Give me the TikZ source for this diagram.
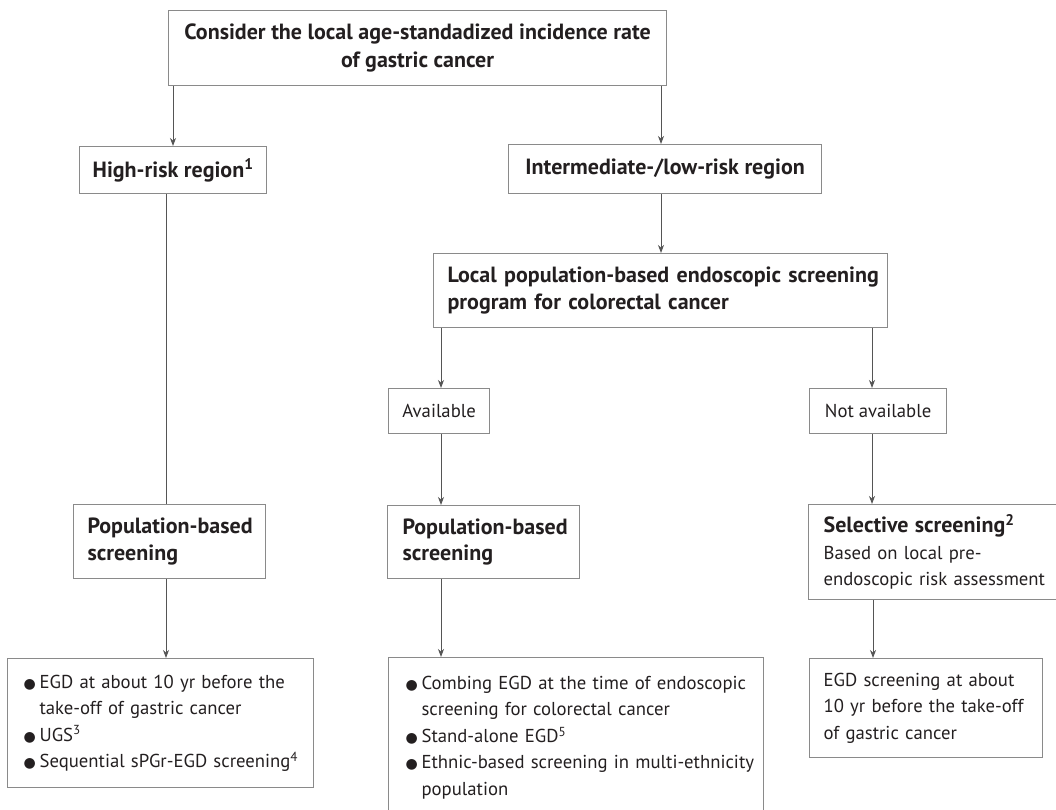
\documentclass[tikz,border=0pt]{standalone}
\usepackage{fontspec}
\setmainfont{PT Sans}
\newfontfamily\dejavu{DejaVu Sans}
\usetikzlibrary{arrows.meta}
\definecolor{txt}{HTML}{231F20}
\definecolor{bord}{HTML}{8A8A8A}
\definecolor{conn}{HTML}{555555}
\newcommand\blt{\makebox[16pt][l]{\fontsize{14}{14}\dejavu ●}}
\newcommand\ind{\hspace*{16pt}}
\newcommand\ml[1]{\mbox{#1}}
\begin{document}
\begin{tikzpicture}[x=1pt,y=-1pt,
  box/.style={draw=bord, line width=1.2pt, text=txt, font=\fontsize{18.7}{26.5}\selectfont, inner ysep=0pt, anchor=north west},
  cbox/.style={box, align=center, inner xsep=0pt},
  lbox/.style={box, align=left},
  hd/.style={font=\fontsize{22}{26.5}\selectfont\bfseries},
  arr/.style={draw=conn, line width=1pt, -{Stealth[length=8pt,width=6pt,inset=2.5pt]}},
  ln/.style={draw=conn, line width=1pt}]
\useasboundingbox (0,0) rectangle (1056,810);
\node[cbox, font=\fontsize{22}{28}\selectfont\bfseries, minimum width=498pt, minimum height=75pt] (top) at (168,10)
  {Consider the local age-standadized incidence rate\\ of gastric cancer};
\node[cbox, hd, minimum width=187pt, minimum height=47pt] (high) at (79,146)
  {High-risk region\textsuperscript{1}};
\node[cbox, hd, minimum width=313pt, minimum height=49pt] (inter) at (508,144)
  {Intermediate-/low-risk region};
\node[lbox, hd, minimum width=454pt, minimum height=74pt, inner xsep=14pt, text width=426pt] (local) at (433,253)
  {\ml{Local population-based endoscopic screening}\\ \ml{program for colorectal cancer}};
\node[cbox, minimum width=101pt, minimum height=45pt] (avail) at (388,388) {Available};
\node[cbox, minimum width=137pt, minimum height=45pt] (notav) at (809,388) {Not available};
\node[lbox, hd, minimum width=192pt, minimum height=74pt, inner xsep=14pt, text width=164pt] (popL) at (73,504)
  {\ml{Population-based}\\ screening};
\node[lbox, hd, minimum width=192pt, minimum height=73pt, inner xsep=15pt, text width=162pt] (popM) at (387,505)
  {\ml{Population-based}\\ screening};
\node[lbox, minimum width=260pt, minimum height=95pt, inner xsep=15pt, text width=230pt] (sel) at (808,504)
  {\ml{\fontsize{22}{26.5}\selectfont\bfseries Selective screening\textsuperscript{2}}\\ \ml{Based on local pre-}\\ \ml{endoscopic risk assessment}};
\node[lbox, minimum width=306pt, minimum height=129pt, inner xsep=16pt, text width=274pt] (bl) at (7,658)
  {\ml{\blt EGD at about 10 yr before the}\\ \ml{\ind take-off of gastric cancer}\\ \ml{\blt UGS\textsuperscript{3}}\\ \ml{\blt Sequential sPGr-EGD screening\textsuperscript{4}}};
\node[lbox, minimum width=375pt, minimum height=160pt, inner xsep=17pt, text width=341pt] (bm) at (388,657)
  {\ml{\blt Combing EGD at the time of endoscopic}\\ \ml{\ind screening for colorectal cancer}\\ \ml{\blt Stand-alone EGD\textsuperscript{5}}\\ \ml{\blt Ethnic-based screening in multi-ethnicity}\\ \ml{\ind population}};
\node[lbox, minimum width=233pt, minimum height=99pt, inner xsep=14pt, text width=205pt] (br) at (809,658)
  {\ml{EGD screening at about}\\ \ml{10 yr before the take-off}\\ \ml{of gastric cancer}};
\draw[arr] (top.south -| 173,0) -- (high.north -| 173,0);
\draw[arr] (top.south -| 661,0) -- (inter.north -| 661,0);
\draw[ln] (high.south -| 166,0) -- (popL.north -| 166,0);
\draw[arr] (popL.south -| 166,0) -- (bl.north -| 166,0);
\draw[arr] (inter.south -| 661,0) -- (local.north -| 661,0);
\draw[arr] (local.south -| 441,0) -- (avail.north -| 441,0);
\draw[arr] (local.south -| 872,0) -- (notav.north -| 872,0);
\draw[arr] (avail.south -| 441,0) -- (popM.north -| 441,0);
\draw[arr] (notav.south -| 872,0) -- (sel.north -| 872,0);
\draw[arr] (popM.south -| 441,0) -- (bm.north -| 441,0);
\draw[arr] (sel.south -| 873,0) -- (br.north -| 873,0);
\end{tikzpicture}
\end{document}
